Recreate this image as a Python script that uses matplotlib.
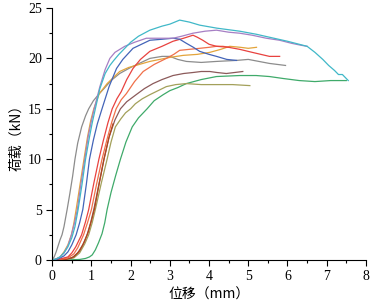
import matplotlib.pyplot as plt
from matplotlib.ticker import MultipleLocator

# load-displacement curves (displacement mm, load kN)
gray_x = [0, 0.05, 0.1, 0.15, 0.2, 0.25, 0.3, 0.38, 0.45, 0.52, 0.58, 0.65, 0.75, 0.85, 0.93, 1.05, 1.2, 1.32, 1.5, 1.72, 2.0, 2.49, 2.8, 3.0, 3.2, 3.42, 3.8, 4.19, 4.7, 5.0, 5.54, 5.95]
gray_y = [0, 0.3, 0.8, 1.4, 2.0, 2.5, 3.3, 5.0, 6.6, 8.3, 10.0, 11.6, 13.2, 14.3, 15.0, 15.8, 16.5, 17.0, 17.8, 18.5, 19.1, 20.0, 20.2, 20.2, 19.9, 19.7, 19.6, 19.7, 19.8, 19.9, 19.5, 19.3]

orange_x = [0, 0.1, 0.2, 0.3, 0.4, 0.49, 0.55, 0.61, 0.71, 0.81, 0.9, 0.98, 1.06, 1.2, 1.4, 1.72, 1.95, 2.49, 3.0, 3.34, 3.7, 4.02, 4.3, 4.53, 4.8, 5.0, 5.21]
orange_y = [0, 0.1, 0.3, 0.8, 1.5, 2.5, 3.6, 5.0, 7.5, 10.0, 12.2, 13.8, 15.0, 16.5, 17.5, 18.7, 19.1, 19.7, 20.1, 20.3, 20.4, 20.6, 20.9, 21.2, 21.1, 21.0, 21.1]

cyan_x = [0, 0.1, 0.2, 0.3, 0.4, 0.5, 0.58, 0.66, 0.76, 0.85, 0.95, 1.02, 1.1, 1.215, 1.35, 1.47, 1.57, 1.7, 1.85, 2.0, 2.2, 2.49, 2.8, 3.0, 3.25, 3.5, 3.76, 4.2, 4.78, 5.2, 5.54, 6.0, 6.5, 6.7, 6.9, 7.05, 7.2, 7.3, 7.4, 7.5, 7.55]
cyan_y = [0, 0.1, 0.3, 0.7, 1.3, 2.2, 3.3, 5.0, 7.5, 10.0, 12.2, 13.6, 15.0, 17.0, 18.5, 19.3, 19.8, 20.4, 21.0, 21.6, 22.2, 22.8, 23.2, 23.4, 23.8, 23.6, 23.3, 23.0, 22.7, 22.4, 22.1, 21.7, 21.2, 20.6, 19.9, 19.3, 18.8, 18.4, 18.4, 18.0, 17.8]

purple_x = [0, 0.1, 0.2, 0.3, 0.4, 0.49, 0.57, 0.64, 0.73, 0.83, 0.92, 1.0, 1.07, 1.215, 1.35, 1.47, 1.6, 1.85, 2.1, 2.4, 2.7, 3.08, 3.3, 3.59, 3.9, 4.19, 4.5, 4.78, 5.1, 5.46, 5.8, 6.1, 6.35, 6.5]
purple_y = [0, 0.1, 0.3, 0.7, 1.4, 2.5, 3.7, 5.0, 7.5, 10.0, 12.3, 13.8, 15.0, 17.2, 18.9, 20.0, 20.6, 21.2, 21.6, 22.0, 22.0, 22.0, 22.2, 22.5, 22.7, 22.8, 22.6, 22.5, 22.3, 22.0, 21.8, 21.5, 21.3, 21.2]

blue_x = [0, 0.15, 0.3, 0.4, 0.5, 0.61, 0.7, 0.78, 0.87, 0.95, 1.05, 1.15, 1.27, 1.45, 1.64, 1.8, 2.06, 2.49, 2.8, 3.08, 3.25, 3.42, 3.6, 3.76, 4.0, 4.19, 4.45, 4.7]
blue_y = [0, 0.1, 0.4, 0.8, 1.5, 2.5, 3.7, 5.0, 7.5, 10.0, 11.9, 13.5, 15.0, 17.2, 19.0, 19.9, 21.0, 21.8, 21.9, 22.0, 21.9, 21.5, 21.1, 20.7, 20.4, 20.2, 19.9, 19.8]

red_x = [0, 0.2, 0.4, 0.5, 0.6, 0.75, 0.85, 0.93, 1.06, 1.19, 1.3, 1.42, 1.53, 1.65, 1.76, 1.9, 2.06, 2.25, 2.49, 2.8, 3.08, 3.35, 3.59, 3.7, 3.84, 4.0, 4.19, 4.5, 4.78, 5.1, 5.54, 5.8]
red_y = [0, 0.1, 0.3, 0.7, 1.3, 2.5, 3.8, 5.0, 7.6, 10.0, 11.8, 13.6, 15.0, 16.0, 16.7, 17.9, 19.0, 19.9, 20.7, 21.2, 21.7, 22.0, 22.3, 22.1, 21.8, 21.4, 21.2, 21.1, 20.9, 20.6, 20.2, 20.2]

salmon_x = [0, 0.2, 0.4, 0.55, 0.65, 0.8, 0.9, 1.0, 1.13, 1.27, 1.4, 1.52, 1.63, 1.76, 1.89, 2.1, 2.32, 2.6, 2.91, 3.1, 3.25, 3.5, 3.76, 4.0, 4.19, 4.35, 4.53]
salmon_y = [0, 0.05, 0.2, 0.6, 1.2, 2.5, 3.7, 5.0, 7.5, 10.0, 12.0, 13.7, 15.0, 15.9, 16.5, 17.7, 18.7, 19.4, 20.0, 20.4, 20.8, 20.9, 21.0, 21.1, 21.2, 21.2, 21.1]

darkred_x = [0, 0.35, 0.55, 0.7, 0.82, 0.92, 1.0, 1.08, 1.2, 1.32, 1.45, 1.55]
darkred_y = [0, 0.05, 0.3, 0.9, 1.8, 2.8, 3.9, 5.1, 7.6, 10.0, 12.2, 13.5]

brown_x = [0, 0.3, 0.5, 0.65, 0.78, 0.89, 0.98, 1.06, 1.19, 1.32, 1.45, 1.6, 1.74, 1.9, 2.14, 2.35, 2.57, 2.8, 3.08, 3.35, 3.59, 3.8, 4.02, 4.2, 4.44, 4.65, 4.86]
brown_y = [0, 0.05, 0.2, 0.7, 1.5, 2.5, 3.7, 5.0, 7.5, 10.0, 12.2, 13.9, 15.0, 15.7, 16.4, 17.0, 17.5, 17.9, 18.3, 18.5, 18.6, 18.7, 18.7, 18.6, 18.5, 18.6, 18.7]

olive_x = [0, 0.3, 0.55, 0.7, 0.83, 0.93, 1.02, 1.1, 1.25, 1.4, 1.5, 1.61, 1.75, 1.87, 2.0, 2.12, 2.3, 2.49, 2.7, 2.91, 3.15, 3.42, 3.8, 4.19, 4.6, 5.04]
olive_y = [0, 0.03, 0.2, 0.7, 1.6, 2.5, 3.7, 5.0, 7.6, 10.0, 11.7, 13.2, 14.0, 14.6, 15.0, 15.5, 16.0, 16.4, 16.8, 17.2, 17.4, 17.5, 17.4, 17.4, 17.4, 17.3]

green_x = [0, 0.4, 0.7, 0.85, 0.95, 1.02, 1.1, 1.18, 1.27, 1.34, 1.4, 1.5, 1.62, 1.74, 1.88, 2.04, 2.2, 2.42, 2.6, 2.83, 3.0, 3.2, 3.42, 3.8, 4.19, 4.78, 5.2, 5.54, 5.9, 6.3, 6.7, 7.1, 7.5]
green_y = [0, 0, 0.05, 0.15, 0.3, 0.5, 1.0, 1.7, 2.6, 3.7, 5.0, 6.7, 8.4, 10.0, 11.7, 13.2, 14.1, 15.0, 15.8, 16.4, 16.8, 17.1, 17.5, 17.9, 18.2, 18.3, 18.3, 18.2, 18.0, 17.8, 17.7, 17.8, 17.8]

curves = [
    (gray_x, gray_y, '#8c8c8c'),
    (orange_x, orange_y, '#e3a43b'),
    (green_x, green_y, '#3faa6a'),
    (olive_x, olive_y, '#a3a05a'),
    (brown_x, brown_y, '#8b5a5a'),
    (darkred_x, darkred_y, '#b0461c'),
    (salmon_x, salmon_y, '#f0704a'),
    (red_x, red_y, '#e8423f'),
    (blue_x, blue_y, '#4364b8'),
    (purple_x, purple_y, '#a67fc4'),
    (cyan_x, cyan_y, '#40b8c8'),
]

fig = plt.figure(figsize=(3.73, 3.08), dpi=100)
ax = fig.add_axes([0.140, 0.156, 0.841, 0.818])

for xs, ys, c in curves:
    ax.plot(xs, ys, color=c, lw=0.9)

ax.set_xlim(0, 8)
ax.set_ylim(0, 25)
ax.xaxis.set_major_locator(MultipleLocator(1))
ax.xaxis.set_minor_locator(MultipleLocator(0.5))
ax.yaxis.set_major_locator(MultipleLocator(5))
ax.yaxis.set_minor_locator(MultipleLocator(2.5))
ax.spines['top'].set_visible(False)
ax.spines['right'].set_visible(False)
ax.tick_params(which='major', direction='out', length=4, width=0.8, labelsize=10)
ax.tick_params(which='minor', direction='out', length=2, width=0.8)
for lab in ax.get_xticklabels() + ax.get_yticklabels():
    lab.set_family('Liberation Serif')

cjk = ['Noto Sans CJK SC', 'DejaVu Sans']
ax.set_xlabel('位移（mm）', family=cjk, fontsize=10, labelpad=3)
ax.set_ylabel('荷载（kN）', family=cjk, fontsize=10, labelpad=3)

fig.savefig('out.png', dpi=100)
